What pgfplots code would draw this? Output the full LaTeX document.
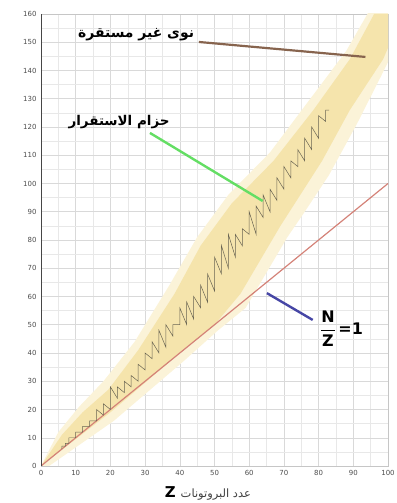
\documentclass[border=0pt]{standalone}
\usepackage{pgfplots}
\pgfplotsset{compat=1.18}
\usepackage{fontspec}
\setmainfont{DejaVu Sans}
\newfontfamily\arabicfont[Script=Arabic]{DejaVu Sans}
\TeXXeTstate=1
\definecolor{band}{RGB}{245,228,172}
\definecolor{bandglow}{RGB}{251,243,216}
\definecolor{nzline}{RGB}{212,130,120}
\definecolor{stab}{RGB}{105,100,82}
\definecolor{brownl}{RGB}{135,100,78}
\definecolor{greenl}{RGB}{100,222,100}
\definecolor{bluel}{RGB}{70,70,165}
\begin{document}
\begin{tikzpicture}
\begin{axis}[name=ax,
  width=347bp, height=452bp, scale only axis,
  xmin=0, xmax=100, ymin=0, ymax=160,
  xtick={0,10,...,100}, ytick={0,10,...,160},
  minor tick num=1, grid=both,
  major grid style={gray!30, line width=0.5pt},
  minor grid style={gray!18, line width=0.4pt},
  major tick length=0pt, minor tick length=0pt,
  /pgf/number format/assume math mode=true,
  tick label style={font=\fontsize{7}{8}\selectfont, text=gray!60!black},
  yticklabel style={xshift=-1bp},
  xticklabel style={yshift=-1bp},
  axis line style={gray!45},
  xlabel={\textbf{\fontsize{15}{16}\selectfont Z}\hspace{5pt}{\arabicfont\fontsize{11.5}{12}\selectfont\color{black!75}\beginR عدد البروتونات\endR}},
  xlabel style={at={(axis description cs:0.481,0)}, anchor=center, yshift=-27bp, inner sep=0pt},
]
% glow of the band
\addplot[fill=bandglow, draw=none] coordinates {
 (0,0) (5,12) (11,21) (18,30) (27,44) (37,64) (45,81) (54,96) (66,111) (77,129) (88,147) (95,162)
 (100,162) (100,143) (98,138) (91,121) (83,103) (76,90) (71,81) (59,56) (51,48) (41,37) (21,16) (0,-2)
} -- cycle;
% band of stability
\addplot[fill=band, draw=none] coordinates {
 (0,0) (6,11) (12,19) (19.4,27) (28,41) (38.5,61) (46,78) (55,93) (67,108) (78.5,126) (89,144) (96,160)
 (100,160) (100,148) (98.6,144) (89,126) (81,108) (73.7,94) (69,85) (57.5,61) (50,50) (40,40) (20,19) (0,0)
} -- cycle;
% N = Z line
\addplot[nzline, line width=1.2pt] coordinates {(0,0) (100,100)};
% stable nuclides
\addplot[stab, line width=0.5pt] coordinates {
 (6,6) (6,7) (7,7) (7,8) (8,8) (8,10) (10,10) (10,12) (12,12) (12,14) (14,14) (14,16)
 (16,16) (16,20) (18,18) (18,22) (20,20) (20,28) (22,24) (22,28) (24,26) (24,30)
 (26,28) (26,32) (28,30) (28,36) (30,34) (30,40) (32,38) (32,44) (34,40) (34,48)
 (36,42) (36,50) (38,46) (38,50) (40,50) (40,56) (42,50) (42,58) (44,52) (44,60)
 (46,56) (46,64) (48,58) (48,68) (50,62) (50,74) (52,68) (52,78) (54,70) (54,82)
 (56,74) (56,82) (58,78) (58,84) (60,82) (60,90) (62,82) (62,92) (64,88) (64,96)
 (66,90) (66,98) (68,94) (68,102) (70,98) (70,106) (72,102) (72,108) (74,106) (74,112)
 (76,108) (76,116) (78,112) (78,120) (80,116) (80,124) (82,122) (82,126) (83,126)
};
% annotation pointers
\addplot[brownl, line width=2.2pt] coordinates {(45.5,150.1) (93.5,144.8)};
\addplot[greenl, line width=2.4pt] coordinates {(31.4,117.9) (63.9,93.8)};
\addplot[bluel, line width=2.4pt] coordinates {(65.1,61.2) (78.3,51.7)};
\node[font=\arabicfont\bfseries\fontsize{14}{15}\selectfont, inner sep=0pt] at (axis cs:27.4,152.8) {\beginR نوى غير مستقرة\endR};
\node[font=\arabicfont\bfseries\fontsize{13.5}{14}\selectfont, inner sep=0pt] at (axis cs:22.5,121.6) {\beginR حزام الاستقرار\endR};
\node[font=\bfseries\fontsize{16}{17}\selectfont, inner sep=0pt] at (axis cs:86.6,48.6) {$\displaystyle\frac{\textbf{N}}{\textbf{Z}}$\,\textbf{=1}};
\end{axis}
\draw[gray!55!black, line width=1pt] (ax.south west) -- (ax.north west);
\pgfresetboundingbox
\path ([shift={(-41bp,-37bp)}]ax.south west) rectangle ([shift={(9bp,14bp)}]ax.north east);
\end{tikzpicture}
\end{document}
